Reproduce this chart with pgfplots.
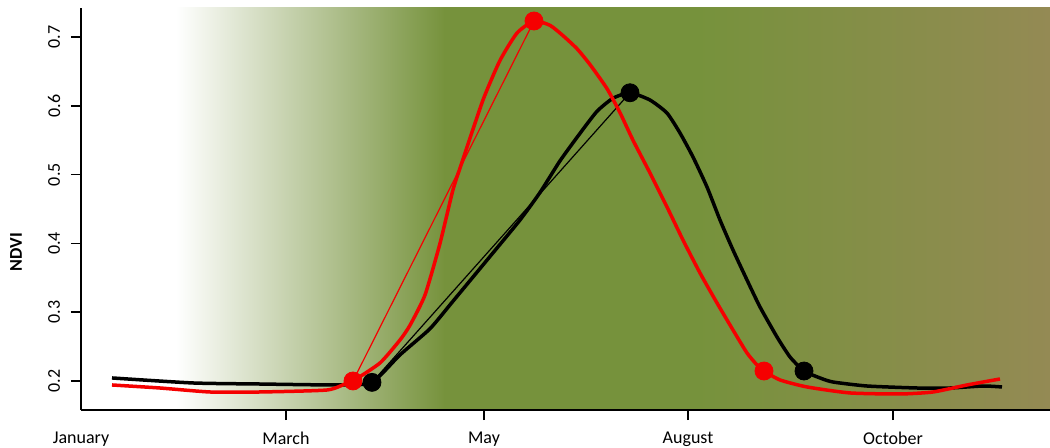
\documentclass[border=0pt]{standalone}
\usepackage{pgfplots}
\pgfplotsset{compat=1.18}
\usepackage{fontspec}
\setmainfont{Carlito}
\definecolor{bggreen}{RGB}{118,146,60}
\definecolor{bgbrown}{RGB}{148,138,84}
\definecolor{cred}{RGB}{245,0,0}
\begin{document}
\begin{tikzpicture}
\begin{axis}[
  scale only axis, width=484.5pt, height=201pt,
  xmin=81, xmax=1050, ymin=0.1578, ymax=0.7422,
  axis lines=left, axis line style={-, line width=1pt},
  axis on top, clip mode=individual,
  tick align=outside, major tick length=5pt,
  tick style={line width=0.8pt, black},
  ytick style={line width=0.8pt, black},
  xtick={286,484,688,893}, xticklabels={March,May,August,October},
  ytick={0.2,0.3,0.4,0.5,0.6,0.7},
  yticklabels={},
  xticklabel style={yshift=-2.5pt},
  ticklabel style={font=\fontsize{9}{10}\selectfont},
  ylabel={\textbf{NDVI}},
  every axis y label/.style={at={(axis description cs:-0.067,0.393)}, rotate=90, anchor=center, font=\fontsize{9}{10}\selectfont},
]
\shade[left color=white, right color=bggreen] (axis cs:176,0.1578) rectangle (axis cs:445,0.7422);
\shade[left color=bggreen, right color=bggreen] (axis cs:444,0.1578) rectangle (axis cs:698,0.7422);
\shade[left color=bggreen, right color=bgbrown] (axis cs:697,0.1578) rectangle (axis cs:1050,0.7422);

% y tick labels (rotated, as in the reference)
\node[rotate=90, anchor=center, inner sep=0pt, font=\fontsize{9}{10}\selectfont] at ([xshift=-13.5pt]axis cs:81,0.2) {0.2};
\node[rotate=90, anchor=center, inner sep=0pt, font=\fontsize{9}{10}\selectfont] at ([xshift=-13.5pt]axis cs:81,0.3) {0.3};
\node[rotate=90, anchor=center, inner sep=0pt, font=\fontsize{9}{10}\selectfont] at ([xshift=-13.5pt]axis cs:81,0.4) {0.4};
\node[rotate=90, anchor=center, inner sep=0pt, font=\fontsize{9}{10}\selectfont] at ([xshift=-13.5pt]axis cs:81,0.5) {0.5};
\node[rotate=90, anchor=center, inner sep=0pt, font=\fontsize{9}{10}\selectfont] at ([xshift=-13.5pt]axis cs:81,0.6) {0.6};
\node[rotate=90, anchor=center, inner sep=0pt, font=\fontsize{9}{10}\selectfont] at ([xshift=-13.5pt]axis cs:81,0.7) {0.7};
% January label (no tick mark in the reference)
\node[anchor=north, font=\fontsize{9}{10}\selectfont] at ([yshift=-7.5pt]axis cs:81,0.1578) {January};

% black curve
\addplot[black, line width=1.75pt, smooth, tension=0.35] coordinates {
(112,0.2044) (193,0.1971) (260,0.1956) (340,0.1942) (372,0.198)
(400,0.238) (430,0.276) (453,0.316) (490,0.381) (520,0.434) (540,0.474)
(560,0.520) (580,0.560) (597,0.592) (613,0.611) (630,0.619)
(650,0.6084) (667,0.5895) (680,0.5605) (693,0.5256) (707,0.4820) (720,0.4340)
(733,0.3904) (747,0.3468) (760,0.3076) (777,0.2640) (790,0.2349) (804,0.2145)
(820,0.2044) (833,0.1985) (867,0.1927) (917,0.1898) (950,0.1898) (983,0.1927) (1002,0.1913)
};
\addplot[black, line width=0.6pt] coordinates {(372,0.198) (630,0.619)};
% red curve
\addplot[cred, line width=1.75pt, smooth, tension=0.35] coordinates {
(112,0.1942) (160,0.1898) (210,0.1840) (260,0.1840) (327,0.1869) (347,0.1971) (353,0.2000)
(380,0.2262) (400,0.2596) (410,0.281) (425,0.325) (440,0.400) (453,0.4780) (462,0.5180)
(483,0.6084) (500,0.6660) (517,0.7058) (534,0.7233)
(550,0.7170) (563,0.7020) (577,0.6830) (590,0.6600) (607,0.6250) (620,0.5900) (633,0.5500) (650,0.5023) (667,0.4529)
(683,0.4049) (700,0.3570) (717,0.3134) (733,0.2741) (747,0.2407) (757,0.2233) (764,0.2145)
(780,0.2015) (807,0.1913) (850,0.1826) (900,0.1811) (933,0.1840) (967,0.1942) (1000,0.2029)
};
\addplot[cred, line width=0.6pt] coordinates {(353,0.200) (534,0.7233)};
% markers
\addplot[only marks, mark=*, mark size=4.5pt, cred, mark options={draw=cred, fill=cred}] coordinates {(353,0.200) (534,0.7233) (764,0.2145)};
\addplot[only marks, mark=*, mark size=4.5pt, black] coordinates {(372,0.198) (630,0.619) (804,0.2145)};
\end{axis}
\pgfresetboundingbox
\path[use as bounding box] ([shift={(-40.5pt,-18.5pt)}]current axis.south west) rectangle ([shift={(0pt,4pt)}]current axis.north east);
\end{tikzpicture}
\end{document}
